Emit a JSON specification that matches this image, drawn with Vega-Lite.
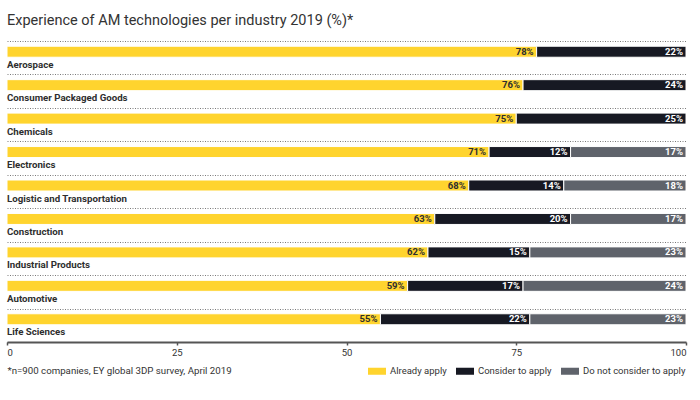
{
  "$schema": "https://vega.github.io/schema/vega-lite/v6.json",
  "autosize": {"type": "none"},
  "width": 679,
  "height": 301,
  "padding": {"left": 7, "right": 14, "top": 41, "bottom": 58},
  "background": "white",
  "title": {
    "text": "Experience of AM technologies per industry 2019 (%)*",
    "anchor": "start",
    "frame": "group",
    "font": "Roboto",
    "fontSize": 14.5,
    "fontWeight": "normal",
    "color": "#333333",
    "offset": 13
  },
  "config": {
    "view": {"stroke": null},
    "font": "Roboto"
  },
  "data": {
    "values": [
      {"industry": "Aerospace", "status": "Already apply", "value": 78},
      {"industry": "Aerospace", "status": "Consider to apply", "value": 22},
      {"industry": "Consumer Packaged Goods", "status": "Already apply", "value": 76},
      {"industry": "Consumer Packaged Goods", "status": "Consider to apply", "value": 24},
      {"industry": "Chemicals", "status": "Already apply", "value": 75},
      {"industry": "Chemicals", "status": "Consider to apply", "value": 25},
      {"industry": "Electronics", "status": "Already apply", "value": 71},
      {"industry": "Electronics", "status": "Consider to apply", "value": 12},
      {"industry": "Electronics", "status": "Do not consider to apply", "value": 17},
      {"industry": "Logistic and Transportation", "status": "Already apply", "value": 68},
      {"industry": "Logistic and Transportation", "status": "Consider to apply", "value": 14},
      {"industry": "Logistic and Transportation", "status": "Do not consider to apply", "value": 18},
      {"industry": "Construction", "status": "Already apply", "value": 63},
      {"industry": "Construction", "status": "Consider to apply", "value": 20},
      {"industry": "Construction", "status": "Do not consider to apply", "value": 17},
      {"industry": "Industrial Products", "status": "Already apply", "value": 62},
      {"industry": "Industrial Products", "status": "Consider to apply", "value": 15},
      {"industry": "Industrial Products", "status": "Do not consider to apply", "value": 23},
      {"industry": "Automotive", "status": "Already apply", "value": 59},
      {"industry": "Automotive", "status": "Consider to apply", "value": 17},
      {"industry": "Automotive", "status": "Do not consider to apply", "value": 24},
      {"industry": "Life Sciences", "status": "Already apply", "value": 55},
      {"industry": "Life Sciences", "status": "Consider to apply", "value": 22},
      {"industry": "Life Sciences", "status": "Do not consider to apply", "value": 23}
    ]
  },
  "encoding": {
    "y": {
      "field": "industry",
      "type": "nominal",
      "sort": null,
      "scale": {"paddingInner": 0, "paddingOuter": 0},
      "axis": {
        "title": null,
        "labels": false,
        "ticks": false,
        "domain": false,
        "grid": true,
        "tickBand": "extent",
        "gridDash": [1, 1.5],
        "gridColor": "#7a7a7a",
        "gridWidth": 1
      }
    }
  },
  "layer": [
    {
      "mark": {"type": "bar", "height": 11, "yOffset": -6, "stroke": "white", "strokeWidth": 1},
      "encoding": {
        "x": {
          "field": "value",
          "type": "quantitative",
          "stack": "zero",
          "scale": {"domain": [0, 100], "nice": false},
          "axis": {
            "values": [0, 25, 50, 75, 100],
            "grid": false,
            "domainColor": "#555555",
            "domainWidth": 2,
            "tickColor": "#555555",
            "tickSize": 3,
            "tickWidth": 1.5,
            "labelFontSize": 9.5,
            "labelColor": "#333333",
            "labelPadding": 2,
            "title": "*n=900 companies, EY global 3DP survey, April 2019",
            "titleAnchor": "start",
            "titleAlign": "left",
            "titleFontSize": 9.7,
            "titleFontWeight": "normal",
            "titleColor": "#333333",
            "titlePadding": 9
          }
        },
        "color": {
          "field": "status",
          "type": "nominal",
          "scale": {
            "domain": ["Already apply", "Consider to apply", "Do not consider to apply"],
            "range": ["#FFD42E", "#171923", "#5F636B"]
          },
          "legend": {
            "orient": "none",
            "direction": "horizontal",
            "legendX": 361,
            "legendY": 321,
            "title": null,
            "symbolType": "M-1,-0.39H1V0.39H-1Z",
            "symbolSize": 324,
            "symbolStrokeWidth": 0,
            "labelFontSize": 9.5,
            "labelColor": "#333333",
            "labelOffset": 4,
            "columnPadding": 9
          }
        },
        "order": {"field": "status", "sort": "ascending"}
      }
    },
    {
      "mark": {"type": "text", "align": "right", "baseline": "middle", "dx": -3, "yOffset": -6, "fontSize": 9.5, "fontWeight": "bold", "text": {"expr": "datum.value + '%'"}},
      "encoding": {
        "x": {"field": "value", "type": "quantitative", "stack": "zero"},
        "detail": {"field": "status"},
        "order": {"field": "status", "sort": "ascending"},
        "color": {
          "condition": {"test": "datum.status === 'Already apply'", "value": "#2e2e2e"},
          "value": "white"
        }
      }
    },
    {
      "mark": {"type": "text", "align": "left", "baseline": "middle", "dy": 7, "fontSize": 9.7, "fontWeight": "bold", "color": "#2e2e2e"},
      "transform": [{"filter": "datum.status === 'Already apply'"}],
      "encoding": {
        "x": {"datum": 0},
        "text": {"field": "industry"}
      }
    }
  ]
}
